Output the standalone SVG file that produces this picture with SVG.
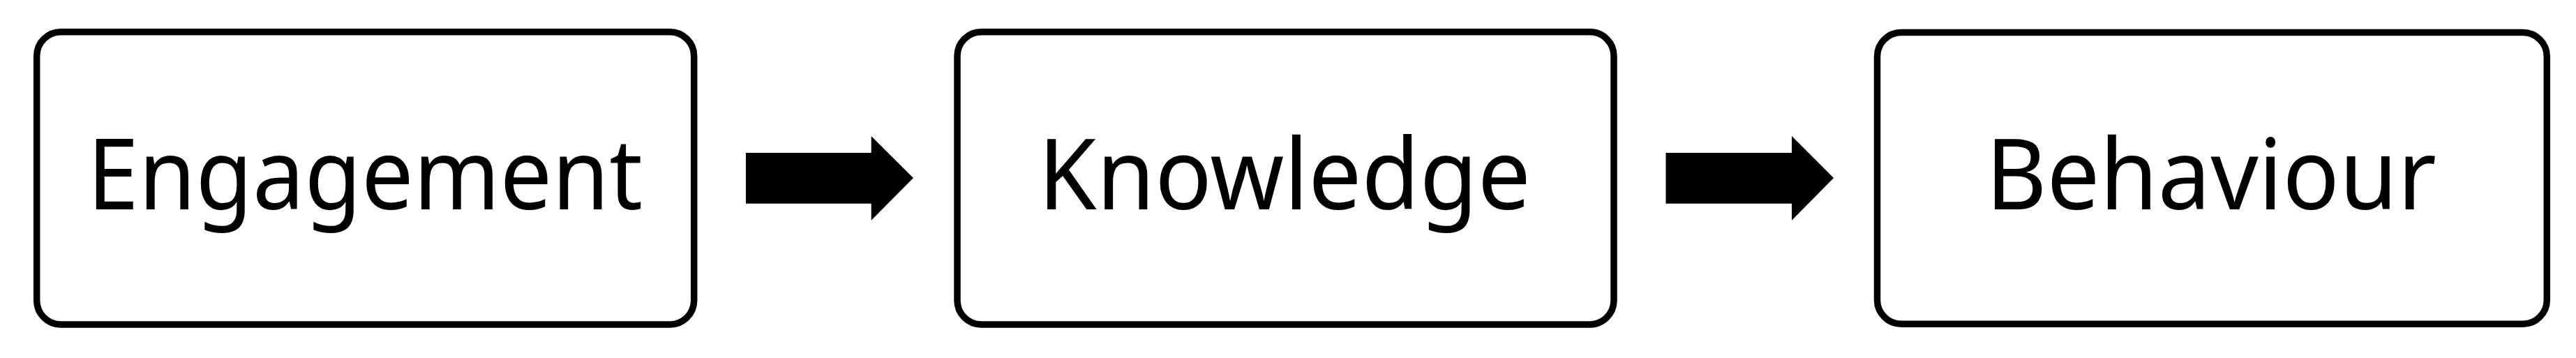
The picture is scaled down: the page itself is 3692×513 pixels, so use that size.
<svg xmlns="http://www.w3.org/2000/svg" width="3692" height="513" viewBox="0 0 3692 513">
<style>
.box{fill:#ffffff;stroke:#000000;stroke-width:9.5}
.lbl{font-family:"Noto Sans","Open Sans","DejaVu Sans",sans-serif;font-size:140px;fill:#000000;text-anchor:middle}
.arr{fill:#000000;stroke:none}
</style>
<rect x="0" y="0" width="3692" height="513" fill="#ffffff"/>
<g id="node-engagement">
<rect class="box" x="52.7" y="45.7" width="942" height="419.3" rx="34.5" ry="34.5"/>
<text class="lbl" x="523" y="300" textLength="796" lengthAdjust="spacingAndGlyphs">Engagement</text>
</g>
<g id="node-knowledge">
<rect class="box" x="1372" y="45.7" width="941" height="419.3" rx="34.5" ry="34.5"/>
<text class="lbl" x="1841" y="300" textLength="706" lengthAdjust="spacingAndGlyphs">Knowledge</text>
</g>
<g id="node-behaviour">
<rect class="box" x="2690.5" y="46.5" width="959.8" height="417.7" rx="34.5" ry="34.5"/>
<text class="lbl" x="3169" y="300" textLength="646" lengthAdjust="spacingAndGlyphs">Behaviour</text>
</g>
<g id="connectors">
<polygon class="arr" points="1069,219 1248.7,219 1248.7,195 1309,255 1248.7,315.7 1248.7,291.7 1069,291.7"/>
<polygon class="arr" points="2387.5,219 2568,219 2568,195 2628,255 2568,315.7 2568,291.7 2387.5,291.7"/>
</g>
</svg>
